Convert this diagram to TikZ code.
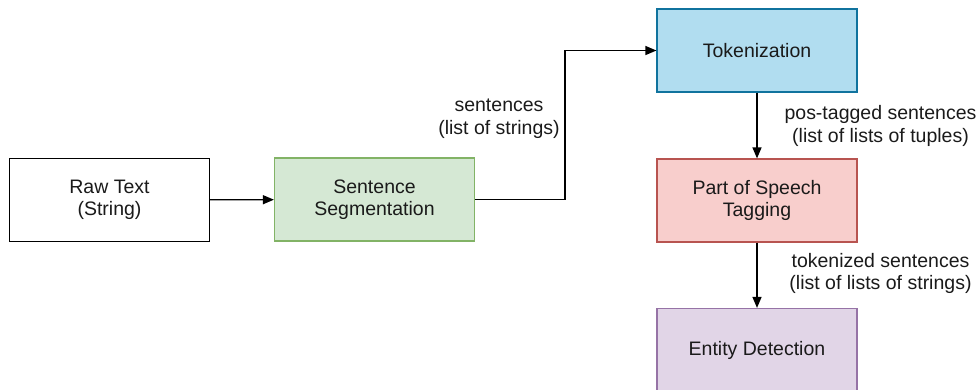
\documentclass[tikz,border=0pt]{standalone}
\usepackage{fontspec}
\setmainfont{Liberation Sans}
\usetikzlibrary{arrows.meta,positioning}
\definecolor{txt}{HTML}{1A1A1A}
\definecolor{segfill}{HTML}{D5E8D4}\definecolor{segdraw}{HTML}{82B366}
\definecolor{tokfill}{HTML}{B1DDF0}\definecolor{tokdraw}{HTML}{10739E}
\definecolor{posfill}{HTML}{F8CECC}\definecolor{posdraw}{HTML}{B85450}
\definecolor{entfill}{HTML}{E1D5E7}\definecolor{entdraw}{HTML}{9673A6}
\tikzset{
  box/.style={draw, line width=1.2pt, minimum width=200pt, minimum height=83pt,
    inner sep=0pt, align=center, text=txt,
    font=\fontsize{19.5}{22.5}\selectfont},
  lbl/.style={align=center, text=txt, inner sep=0pt,
    font=\fontsize{19.5}{22.5}\selectfont},
  conn/.style={line width=1.3pt, -{Stealth[length=11pt,width=9pt,inset=0pt]}},
}
\begin{document}
\begin{tikzpicture}[x=1pt,y=-1pt]
\useasboundingbox (0,0) rectangle (980,389);
\clip (0,0) rectangle (980,389);
\node[box, fill=white, draw=black] (raw) at (109.5,200) {Raw Text\\(String)};
\node[box, fill=segfill, draw=segdraw] (seg) at (374.5,199.5) {Sentence\\Segmentation};
\node[box, fill=tokfill, draw=tokdraw] (tok) at (757,50.5) {Tokenization};
\node[box, fill=posfill, draw=posdraw] (pos) at (757,200.5) {Part of Speech\\Tagging};
\node[box, fill=entfill, draw=entdraw] (ent) at (757,350) {Entity Detection};
\draw[conn] (raw) -- (seg);
\draw[conn] (seg.east) -- (565,199.5) |- (tok.west);
\draw[conn] (tok) -- (pos);
\draw[conn] (pos) -- (ent);
\node[lbl] (l1) at (499,118.5) {sentences\\(list of strings)};
\node[lbl] (l2) at (880.5,126) {pos-tagged sentences\\(list of lists of tuples)};
\node[lbl] (l3) at (880.5,273.5) {tokenized sentences\\(list of lists of strings)};
\end{tikzpicture}
\end{document}
